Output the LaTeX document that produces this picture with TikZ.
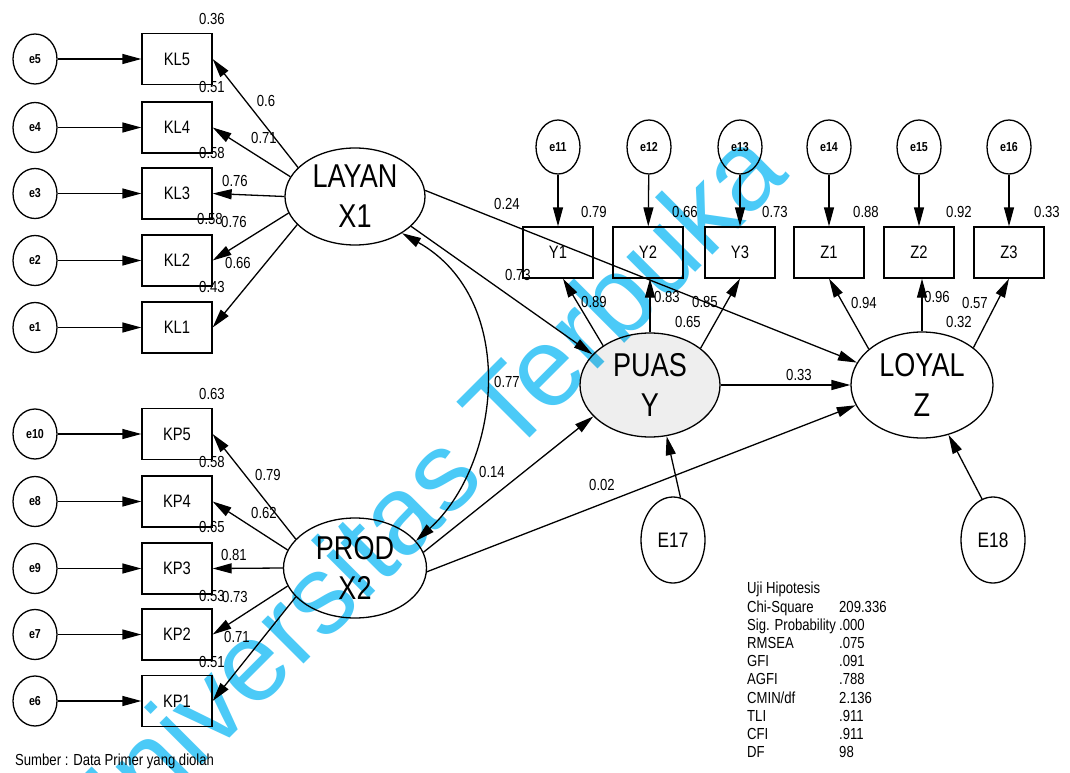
\documentclass[tikz,border=0pt]{standalone}
\usepackage{fontspec}
\setmainfont{Liberation Sans}[FakeStretch=0.82]
\newfontfamily\wmfont{Liberation Sans}
\usetikzlibrary{shapes.geometric,arrows.meta}
\definecolor{wmcyan}{RGB}{75,202,247}
\definecolor{puasfill}{RGB}{238,238,238}
\begin{document}
\begin{tikzpicture}[x=1pt,y=-1pt,
  err/.style={ellipse,draw,line width=1.3pt,minimum width=44pt,minimum height=50pt,inner sep=0pt,font=\bfseries\fontsize{13}{13}\selectfont},
  obs/.style={rectangle,draw,line width=1.3pt,minimum width=70pt,minimum height=51pt,inner sep=0pt,font=\fontsize{18}{18}\selectfont},
  lat/.style={ellipse,draw,line width=1.3pt,inner sep=0pt,align=center,font=\fontsize{33}{40}\selectfont},
  dist/.style={ellipse,draw,line width=1.3pt,minimum width=64pt,minimum height=86pt,inner sep=0pt,font=\fontsize{21}{21}\selectfont},
  lab/.style={inner sep=0pt,font=\fontsize{16}{16}\selectfont},
  arr/.style={line width=1.3pt,-{Triangle[length=19pt,width=10pt]}},
  darr/.style={line width=1.3pt,{Triangle[length=19pt,width=10pt]}-{Triangle[length=19pt,width=10pt]}},
  wm/.style={inner sep=0pt,text=wmcyan,font=\wmfont\fontsize{112}{112}\selectfont,rotate=45}
]
\useasboundingbox[fill=white] (0,0) rectangle (1070,773);

% ---- left top block
\node[err] (e5) at (35,59) {e5};
\node[err] (e4) at (35,127.5) {e4};
\node[err] (e3) at (35,193.5) {e3};
\node[err] (e2) at (35,260.5) {e2};
\node[err] (e1) at (35,327.5) {e1};
\node[obs] (KL5) at (177,59) {KL5};
\node[obs] (KL4) at (177,127.5) {KL4};
\node[obs] (KL3) at (177,193.5) {KL3};
\node[obs] (KL2) at (177,260.5) {KL2};
\node[obs] (KL1) at (177,327.5) {KL1};

% ---- left bottom block
\node[err] (e10) at (35,434) {e10};
\node[err] (e9) at (35,501.5) {e8};
\node[err] (e8) at (35,568.5) {e9};
\node[err] (e7) at (35,634.5) {e7};
\node[err] (e6) at (35,701) {e6};
\node[obs] (KP5) at (177,434) {KP5};
\node[obs] (KP4) at (177,501.5) {KP4};
\node[obs] (KP3) at (177,568.5) {KP3};
\node[obs] (KP2) at (177,634.5) {KP2};
\node[obs] (KP1) at (177,701) {KP1};

% ---- top row
\node[err,minimum height=54pt] (e11) at (558,147) {e11};
\node[err,minimum height=54pt] (e12) at (649,147) {e12};
\node[err,minimum height=54pt] (e13) at (740,147) {e13};
\node[err,minimum height=54pt] (e14) at (829,147) {e14};
\node[err,minimum height=54pt] (e15) at (919,147) {e15};
\node[err,minimum height=54pt] (e16) at (1009,147) {e16};
\node[obs] (Y1) at (558,252.5) {Y1};
\node[obs] (Y2) at (648,252.5) {Y2};
\node[obs] (Y3) at (740,252.5) {Y3};
\node[obs] (Z1) at (829,252.5) {Z1};
\node[obs] (Z2) at (919,252.5) {Z2};
\node[obs] (Z3) at (1009,252.5) {Z3};

% ---- latents
\node[lat,minimum width=140pt,minimum height=97pt] (LAYAN) at (355,196.5) {LAYAN\\X1};
\node[lat,minimum width=143pt,minimum height=100pt] (PROD) at (355,568) {PROD\\X2};
\node[lat,minimum width=140pt,minimum height=104pt,fill=puasfill] (PUAS) at (650,385) {PUAS\\Y};
\node[lat,minimum width=142pt,minimum height=106pt] (LOYAL) at (922,385) {LOYAL\\Z};
\node[dist] (E17) at (673,540) {E17};
\node[dist] (E18) at (993,540) {E18};

% ---- error arrows
\foreach \a/\b in {e5/KL5,e4/KL4,e3/KL3,e2/KL2,e1/KL1,e10/KP5,e9/KP4,e8/KP3,e7/KP2,e6/KP1,e11/Y1,e12/Y2,e13/Y3,e14/Z1,e15/Z2,e16/Z3}
  \draw[arr] (\a) -- (\b);

% ---- loadings
\draw[arr] (LAYAN.153) -- (KL5.east);
\draw[arr] (LAYAN.163) -- (KL4.east);
\draw[arr] (LAYAN.180) -- (KL3.east);
\draw[arr] (LAYAN.194) -- (KL2.east);
\draw[arr] (LAYAN.206) -- (KL1.east);
\draw[arr] (PROD.154) -- (KP5.east);
\draw[arr] (PROD.165) -- (KP4.east);
\draw[arr] (PROD.180) -- (KP3.east);
\draw[arr] (PROD.195) -- (KP2.east);
\draw[arr] (PROD.206) -- (KP1.east);
\draw[arr] (PUAS.140) -- ([xshift=5pt]Y1.south);
\draw[arr] (PUAS.north) -- (PUAS.north |- Y2.south);
\draw[arr] (PUAS.36) -- (Y3.south);
\draw[arr] (LOYAL.146) -- (Z1.south);
\draw[arr] (LOYAL.north) -- (LOYAL.north |- Z2.south);
\draw[arr] (LOYAL.36) -- (Z3.south);

% ---- structural paths
\draw[arr] (LAYAN.5) -- (LOYAL.161);
\draw[arr] (LAYAN.-28) -- (PUAS.152);
\draw[arr] (PROD.13) -- (PUAS.209);
\draw[arr] (PROD.-3) -- (LOYAL.197);
\draw[arr] (PUAS) -- (LOYAL);
\draw[darr] (LAYAN.-38) .. controls (520,300) and (500,465) .. (PROD.24);
\draw[arr] (E17.80) -- (PUAS.-72);
\draw[arr] (E18.105) -- (LOYAL.-62);

% ---- labels left top
\node[lab] (r1) at (212,19) {0.36};
\node[lab] (r2) at (212,87) {0.51};
\node[lab] (r3) at (212,153) {0.58};
\node[lab] (r4) at (210,219) {0.58};
\node[lab] (r5) at (212,287) {0.43};
\node[lab] (l1) at (266,101) {0.6};
\node[lab] (l2) at (264,138) {0.71};
\node[lab] (l3) at (235,181) {0.76};
\node[lab] (l4) at (234,222) {0.76};
\node[lab] (l5) at (238,263) {0.66};
% ---- labels left bottom
\node[lab] (r6) at (212,394) {0.63};
\node[lab] (r7) at (212,462) {0.58};
\node[lab] (r8) at (212,527) {0.65};
\node[lab] (r9) at (212,596) {0.53};
\node[lab] (r10) at (212,662) {0.51};
\node[lab] (l6) at (268,475) {0.79};
\node[lab] (l7) at (264,513) {0.62};
\node[lab] (l8) at (234,555) {0.81};
\node[lab] (l9) at (235,597) {0.73};
\node[lab] (l10) at (237,637) {0.71};
% ---- labels top
\node[lab] (r11) at (594,212) {0.79};
\node[lab] (r12) at (685,212) {0.66};
\node[lab] (r13) at (775,212) {0.73};
\node[lab] (r14) at (866,212) {0.88};
\node[lab] (r15) at (959,212) {0.92};
\node[lab] (r16) at (1047,212) {0.33};
\node[lab] (l11) at (594,302) {0.89};
\node[lab] (l12) at (667,297) {0.83};
\node[lab] (l13) at (705,302) {0.85};
\node[lab] (r17) at (688,322) {0.65};
\node[lab] (l14) at (864,303) {0.94};
\node[lab] (l15) at (937,297) {0.96};
\node[lab] (l16) at (975,303) {0.57};
\node[lab] (r18) at (959,322) {0.32};
% ---- structural labels
\node[lab] (s1) at (507,204) {0.24};
\node[lab] (s2) at (518,275) {0.73};
\node[lab] (s3) at (507,382) {0.77};
\node[lab] (s4) at (492,472) {0.14};
\node[lab] (s5) at (602,485) {0.02};
\node[lab] (s6) at (799,375) {0.33};

% ---- table and source
\node[anchor=north west,inner sep=0pt,font=\fontsize{16}{18.2}\selectfont] (tab) at (747,581) {%
\begin{tabular}{@{}p{92pt}@{}l@{}}
Uji Hipotesis & \\
Chi-Square & 209.336\\
Sig. Probability & .000\\
RMSEA & .075\\
GFI & .091\\
AGFI & .788\\
CMIN/df & 2.136\\
TLI & .911\\
CFI & .911\\
DF & 98
\end{tabular}};
\node[lab,anchor=west] (src) at (15,761) {Sumber : Data Primer yang diolah};

% ---- watermark
\begin{scope}[blend mode=multiply]
\node[wm] (wmark) at (415,496) {Universitas Terbuka};
\end{scope}
\end{tikzpicture}
\end{document}
